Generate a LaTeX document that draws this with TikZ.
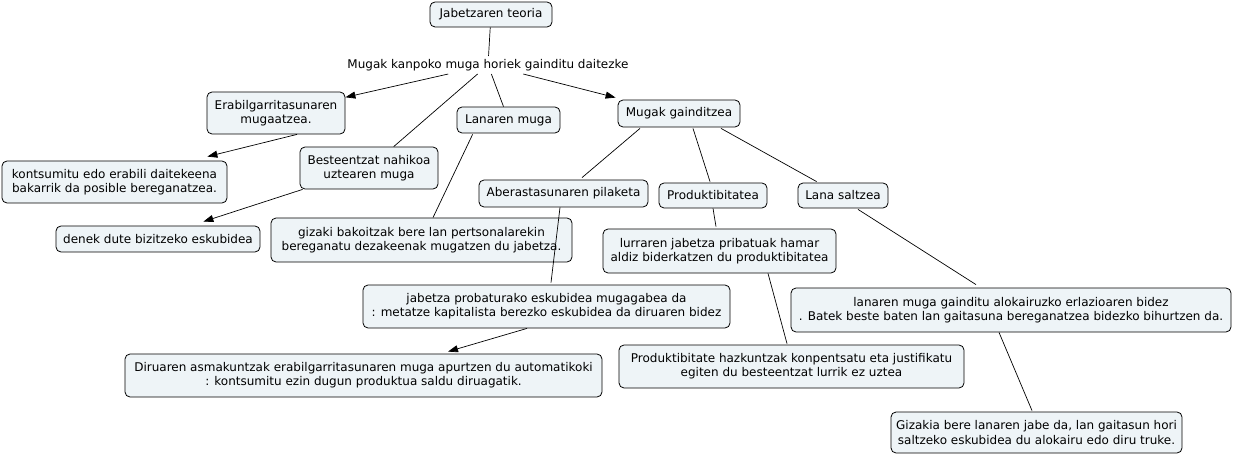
\documentclass[tikz,border=0pt]{standalone}
\usepackage{fontspec}
\setmainfont{DejaVu Sans}
\usetikzlibrary{arrows.meta,calc}
\definecolor{boxfill}{RGB}{238,244,247}
\begin{document}
\begin{tikzpicture}[x=1pt,y=-1pt,
  box/.style={draw=black, line width=0.8pt, fill=boxfill, rounded corners=5pt,
    align=center, inner sep=0pt, font=\fontsize{12}{14.3}\selectfont},
  lbltext/.style={font=\fontsize{12}{14.3}\selectfont, inner sep=3pt},
  conn/.style={line width=0.7pt},
  arr/.style={conn, -{Triangle[length=10pt,width=7pt]}}]
\useasboundingbox (0,0) rectangle (1233,454);

\node[box, minimum width=122pt, minimum height=25pt] (jt) at (491,14.5) {Jabetzaren teoria};
\node[lbltext] (lbl) at (488,65) {Mugak kanpoko muga horiek gainditu daitezke};
\node[box, minimum width=138pt, minimum height=42pt] (erab) at (276,113) {Erabilgarritasunaren\\mugaatzea.};
\node[box, minimum width=225pt, minimum height=42pt] (kons) at (114.5,182) {kontsumitu edo erabili daitekeena\\bakarrik da posible bereganatzea.};
\node[box, minimum width=138pt, minimum height=42pt] (best) at (369,168) {Besteentzat nahikoa\\uztearen muga};
\node[box, minimum width=204pt, minimum height=26pt] (denek) at (158,239) {denek dute bizitzeko eskubidea};
\node[box, minimum width=301pt, minimum height=44pt] (giz) at (421.5,240) {gizaki bakoitzak bere lan pertsonalarekin\\bereganatu dezakeenak mugatzen du jabetza.};
\node[box, minimum width=103pt, minimum height=26pt] (lan) at (508.5,120) {Lanaren muga};
\node[box, minimum width=122pt, minimum height=27pt] (mg) at (679,113.5) {Mugak gainditzea};
\node[box, minimum width=169pt, minimum height=27pt] (aber) at (563.5,193.5) {Aberastasunaren pilaketa};
\node[box, minimum width=108pt, minimum height=25pt] (prod) at (713,195.5) {Produktibitatea};
\node[box, minimum width=90pt, minimum height=25pt] (lana) at (843,195.5) {Lana saltzea};
\node[box, minimum width=367pt, minimum height=43pt] (jpe) at (546.5,306.5) {jabetza probaturako eskubidea mugagabea da\\: metatze kapitalista berezko eskubidea da diruaren bidez};
\node[box, minimum width=477pt, minimum height=43pt] (dir) at (363.5,375.5) {Diruaren asmakuntzak erabilgarritasunaren muga apurtzen du automatikoki\\: kontsumitu ezin dugun produktua saldu diruagatik.};
\node[box, minimum width=233pt, minimum height=44pt] (lur) at (719.5,251) {lurraren jabetza pribatuak hamar\\aldiz biderkatzen du produktibitatea};
\node[box, minimum width=345pt, minimum height=43pt] (phaz) at (791.5,366.5) {Produktibitate hazkuntzak konpentsatu eta justifikatu\\egiten du besteentzat lurrik ez uztea};
\node[box, minimum width=440pt, minimum height=44pt] (lmg) at (1011,310) {lanaren muga gainditu alokairuzko erlazioaren bidez\\. Batek beste baten lan gaitasuna bereganatzea bidezko bihurtzen da.};
\node[box, minimum width=291pt, minimum height=41pt] (gizk) at (1036.5,432.5) {Gizakia bere lanaren jabe da, lan gaitasun hori\\saltzeko eskubidea du alokairu edo diru truke.};

\draw[conn] (jt) -- (lbl);
\draw[arr] (lbl) -- (erab);
\draw[conn] (lbl) -- (best);
\draw[conn] (lbl) -- (lan);
\draw[arr] (lbl) -- ($(mg.north west)+(-2,-2)$);
\draw[arr] ($(erab.south)+(21,0)$) -- ($(kons.north east)+(-20,-4)$);
\draw[arr] ($(best.south west)+(3,0)$) -- ($(denek.north east)+(-57,-4)$);
\draw[conn] ($(lan.south west)+(16,1)$) -- ($(giz.north)+(11.5,0)$);
\draw[conn] ($(mg.south)+(-39,1)$) -- ($(aber.north)+(18.5,-2)$);
\draw[conn] ($(mg.south)+(14,1)$) -- ($(prod.north)+(-3,-1)$);
\draw[conn] ($(mg.south)+(42,1)$) -- ($(lana.north west)+(19,-1)$);
\draw[conn] ($(aber.south)+(-3.5,0)$) -- ($(jpe.north)+(4.5,-2)$);
\draw[arr] ($(jpe.south)+(-19.5,0)$) -- ($(dir.north)+(84.5,-2)$);
\draw[conn] (prod.south) -- ($(lur.north)+(-3.5,-2)$);
\draw[conn] ($(lur.south)+(48.5,0)$) -- ($(phaz.north)+(-4.5,-1)$);
\draw[conn] ($(lana.south)+(15,1)$) -- ($(lmg.north)+(-35,-3)$);
\draw[conn] ($(lmg.south)+(-12,0)$) -- ($(gizk.north)+(-4.5,-1)$);
\end{tikzpicture}
\end{document}
